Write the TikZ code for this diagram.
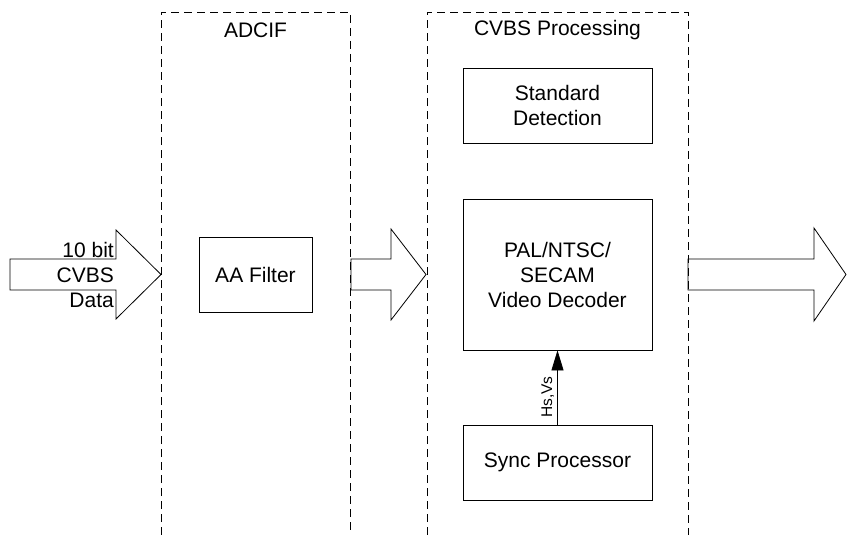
\documentclass[tikz,border=0pt]{standalone}
\usepackage{fontspec}
\setmainfont{Liberation Sans}
\usepackage{tikz}
\usetikzlibrary{arrows.meta}

\begin{document}
\begin{tikzpicture}[x=1pt, y=-1pt,
		blk/.style={draw, rectangle, line width=0.8pt, align=center, inner sep=0pt, font=\fontsize{21}{25}\selectfont},
		region/.style={draw, line width=0.8pt, dash pattern=on 8pt off 5pt},
		flow/.style={draw, line width=0.8pt, line join=miter},
		mylabel/.style={font=\fontsize{21}{25}\selectfont, inner sep=0pt},
		>={Triangle[length=20pt, width=12pt]}
		]
		\useasboundingbox (0,0) rectangle (847,535);
		% dashed regions, open at the bottom
		\draw[region] (161,535) |- (350,12) -- (350,535);
		\draw[region] (427,535) |- (688,12) -- (688,535);
		\node[mylabel] (adcif) at (255.5, 30) {ADCIF};
		\node[mylabel] (cvbs) at (557.5, 30) {CVBS Processing};
		
		\node[blk, minimum width=113, minimum height=75] (aa) at (255.5, 274.5) {AA Filter};
		\node[blk, minimum width=189, minimum height=75] (std) at (557.5, 105.5) {Standard\\Detection};
		\node[blk, minimum width=189, minimum height=151] (dec) at (557.5, 274.5) {PAL/NTSC/\\SECAM\\Video Decoder};
		\node[blk, minimum width=189, minimum height=75] (sync) at (557.5, 462.5) {Sync Processor};
		\draw[->, line width=0.8pt] (sync.north) to node[pos=0.37, rotate=90, above, inner sep=3pt, font=\fontsize{15.5}{18}\selectfont]{Hs,Vs} (dec.south);
		
		% block arrows
		\draw[flow] (10,259) -| (116,230) -- (161,274.5) -- (116,319) |- (10,290) -- cycle;
		\node[mylabel, align=right, anchor=east] (in) at (114, 274.5) {10 bit\\CVBS\\Data};
		\draw[flow] (351,259) -| (391,229) -- (426,274.5) -- (391,320) |- (351,290) -- cycle;
		\draw[flow] (688,259) -| (814,228) -- (846,274.5) -- (814,321) |- (688,290) -- cycle;
		
		\end{tikzpicture}
\end{document}
